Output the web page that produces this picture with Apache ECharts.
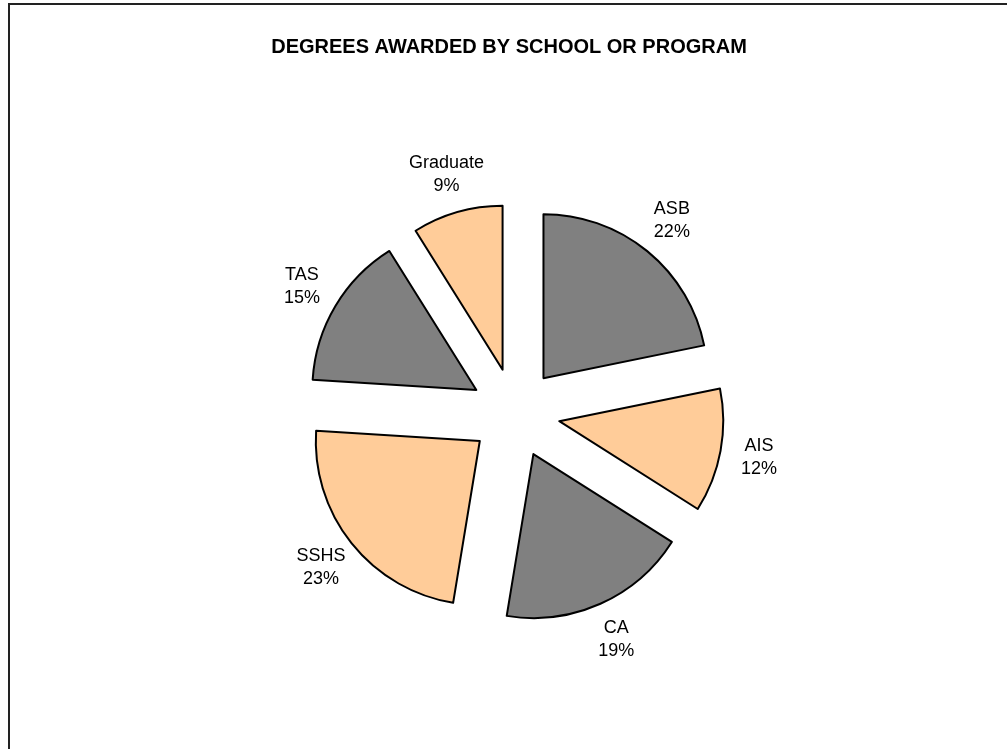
<!DOCTYPE html>
<html>
<head>
<meta charset="utf-8">
<script src="https://cdn.jsdelivr.net/npm/echarts@6/dist/echarts.min.js"></script>
<style>
html,body{margin:0;padding:0;background:#fff;overflow:hidden;}
#frame{position:absolute;left:8px;top:3px;width:1020px;height:770px;border:2px solid #222;box-sizing:border-box;}
#chart{position:absolute;left:0;top:0;width:1007px;height:749px;}
</style>
</head>
<body>
<div id="frame"></div>
<div id="chart"></div>
<script>
const titleText = 'DEGREES AWARDED BY SCHOOL OR PROGRAM';
const categories = ['ASB', 'AIS', 'CA', 'SSHS', 'TAS', 'Graduate'];
const values = [21.8, 12.2, 18.6, 23.4, 15.1, 8.9];
const colors = ['#808080', '#FFCC99', '#808080', '#FFCC99', '#808080', '#FFCC99'];

const chart = echarts.init(document.getElementById('chart'), null, {renderer: 'canvas'});
const center = [515, 413];
const font = {fontFamily: 'Liberation Sans, Arial, sans-serif'};

chart.setOption({
  backgroundColor: 'transparent',
  animation: false,
  title: {
    text: titleText,
    left: 509,
    top: 35,
    padding: 0,
    textAlign: 'center',
    textStyle: Object.assign({fontSize: 20, lineHeight: 24, fontWeight: 'bold', color: '#000'}, font)
  },
  series: [
    {
      type: 'pie',
      center: center,
      radius: [0, 164],
      startAngle: 90,
      clockwise: true,
      selectedMode: 'multiple',
      selectedOffset: 45,
      silent: true,
      label: {show: false},
      labelLine: {show: false},
      emphasis: {disabled: true},
      data: categories.map((c, i) => ({
        name: c,
        value: values[i],
        selected: true,
        itemStyle: {color: colors[i], borderColor: '#000', borderWidth: 2}
      }))
    },
    {
      type: 'pie',
      center: center,
      radius: [225, 265],
      startAngle: 90,
      clockwise: true,
      silent: true,
      emphasis: {disabled: true},
      itemStyle: {color: 'transparent', borderWidth: 0},
      label: Object.assign({
        show: true,
        position: 'inside',
        formatter: p => p.name + '\n' + Math.round(p.value) + '%',
        fontSize: 18,
        lineHeight: 23,
        color: '#000',
        align: 'center'
      }, font),
      labelLine: {show: false},
      data: categories.map((c, i) => ({name: c, value: values[i]}))
    }
  ]
});
</script>
</body>
</html>
